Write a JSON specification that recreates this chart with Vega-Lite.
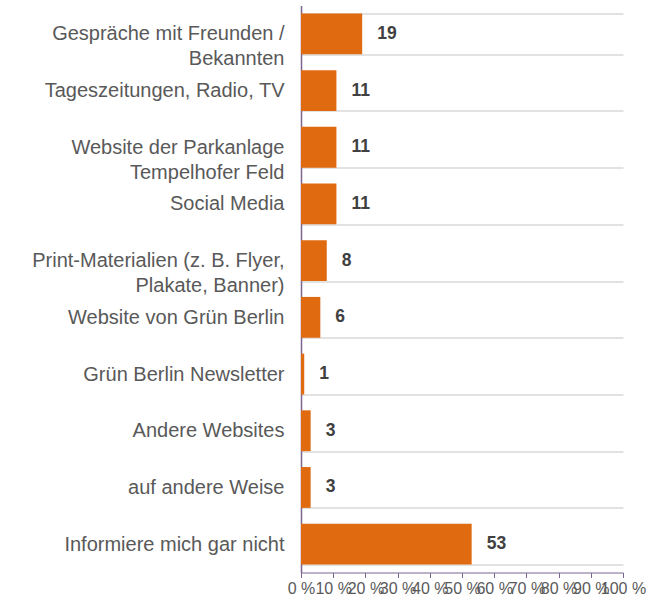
{
  "$schema": "https://vega.github.io/schema/vega-lite/v6.json",
  "width": 322,
  "height": 567,
  "autosize": {"type": "none"},
  "padding": {"left": 301, "top": 5.5, "right": 25, "bottom": 28.5},
  "background": "white",
  "config": {"view": {"stroke": null}, "font": "Liberation Sans"},
  "data": {"values": [
    {"kategorie": "Gespräche mit Freunden /|Bekannten", "wert": 19},
    {"kategorie": "Tageszeitungen, Radio, TV", "wert": 11},
    {"kategorie": "Website der Parkanlage|Tempelhofer Feld", "wert": 11},
    {"kategorie": "Social Media", "wert": 11},
    {"kategorie": "Print-Materialien (z. B. Flyer,|Plakate, Banner)", "wert": 8},
    {"kategorie": "Website von Grün Berlin", "wert": 6},
    {"kategorie": "Grün Berlin Newsletter", "wert": 1},
    {"kategorie": "Andere Websites", "wert": 3},
    {"kategorie": "auf andere Weise", "wert": 3},
    {"kategorie": "Informiere mich gar nicht", "wert": 53}
  ]},
  "encoding": {
    "y": {
      "field": "kategorie", "type": "nominal", "sort": null,
      "scale": {"paddingInner": 0.28, "paddingOuter": 0.14},
      "axis": {
        "title": null, "ticks": false, "grid": true, "tickBand": "extent",
        "gridColor": "#d9d9d9", "gridWidth": 1.5,
        "domainColor": "#7b6690", "domainWidth": 1.5,
        "labelExpr": "split(datum.label, '|')",
        "encode": {"labels": {"update": {"dy": {"signal": "indexof(datum.value, '|') >= 0 ? -12.5 : 0"}}}},
        "labelFontSize": 20, "labelColor": "#595959", "labelPadding": 17,
        "labelLineHeight": 25, "labelLimit": 320
      }
    },
    "x": {
      "field": "wert", "type": "quantitative",
      "scale": {"domain": [0, 100], "nice": false},
      "axis": {
        "title": null, "grid": false, "values": [0,10,20,30,40,50,60,70,80,90,100],
        "labelExpr": "datum.value + ' %'",
        "labelFontSize": 16, "labelColor": "#595959",
        "domainColor": "#7b6690", "tickColor": "#7b6690", "tickSize": 5,
        "labelPadding": 3, "labelOverlap": false, "labelFlush": false
      }
    }
  },
  "layer": [
    {"mark": {"type": "bar", "color": "#e06a10"}},
    {"mark": {"type": "text", "align": "left", "dx": 15, "fontSize": 17.5, "fontWeight": "bold", "color": "#404040"},
     "encoding": {"text": {"field": "wert", "type": "quantitative"}}}
  ]
}
